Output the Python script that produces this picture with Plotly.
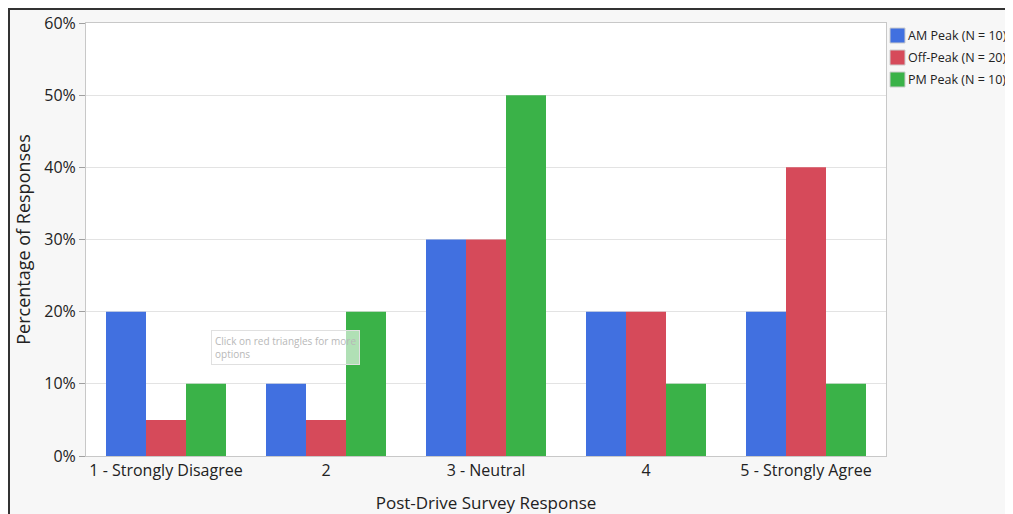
import plotly.graph_objects as go

categories = ["1 - Strongly Disagree", "2", "3 - Neutral", "4", "5 - Strongly Agree"]
series_names = ["AM Peak (N = 10)", "Off-Peak (N = 20)", "PM Peak (N = 10)"]
am_peak = [0.20, 0.10, 0.30, 0.20, 0.20]
off_peak = [0.05, 0.05, 0.30, 0.20, 0.40]
pm_peak = [0.10, 0.20, 0.50, 0.10, 0.10]
colors = ["#4170E0", "#D64A5A", "#3AB248"]
y_ticks = [0, 0.1, 0.2, 0.3, 0.4, 0.5, 0.6]

FONT = "Open Sans, DejaVu Sans, sans-serif"

fig = go.Figure()
for name, vals, col in zip(series_names, [am_peak, off_peak, pm_peak], colors):
    fig.add_trace(go.Bar(x=categories, y=vals, name=name, marker_color=col,
                         marker_line_width=0, showlegend=False))

# page body adds an 8px offset; figure coords = screen coords - 8
OFF = 8
W, H = 1013 - OFF, 514 - OFF
L, T = 86 - OFF, 23 - OFF
R, B = W - (886 - OFF), H - (456 - OFF)
pw, ph = W - L - R, H - T - B

def px_x(x):
    return (x - OFF - L) / pw

def px_y(y):
    return 1 - (y - OFF - T) / ph

shapes = [
    # outer frame: left and top edges
    dict(type="line", xref="paper", yref="paper", x0=px_x(9), x1=px_x(9),
         y0=px_y(600), y1=px_y(8), line=dict(color="#333333", width=2)),
    dict(type="line", xref="paper", yref="paper", x0=px_x(8), x1=px_x(1100),
         y0=px_y(9), y1=px_y(9), line=dict(color="#333333", width=2)),
]
annotations = [dict(text="Click on red triangles for more<br>options",
                    xref="paper", yref="paper", x=px_x(211), y=px_y(330),
                    xanchor="left", yanchor="top", align="left", showarrow=False,
                    font=dict(size=10, color="#b8b8b8"),
                    bgcolor="rgba(255,255,255,0.6)", bordercolor="#e0e0e0",
                    borderwidth=1, borderpad=3)]

# manual legend placed in the right margin
for i, (name, col) in enumerate(zip(series_names, colors)):
    top = 28 + 22 * i
    shapes.append(dict(type="rect", xref="paper", yref="paper",
                       x0=px_x(890), x1=px_x(905), y0=px_y(top + 15), y1=px_y(top),
                       line=dict(color="#cccccc", width=1), fillcolor=col))
    annotations.append(dict(text=name, xref="paper", yref="paper",
                            x=px_x(906), y=px_y(top + 7.5), xanchor="left",
                            yanchor="middle", showarrow=False,
                            font=dict(size=12.5, color="#222222")))

fig.update_layout(
    width=W, height=H,
    margin=dict(l=L, r=R, t=T, b=B, pad=0, autoexpand=False),
    paper_bgcolor="#f7f7f7",
    plot_bgcolor="white",
    barmode="group",
    bargap=0.25,
    bargroupgap=0,
    showlegend=False,
    font=dict(family=FONT, color="#222222", size=16),
    xaxis=dict(
        title=dict(text="Post-Drive Survey Response", font=dict(size=17), standoff=17),
        showline=True, linecolor="#c8c8c8", linewidth=1, mirror=True,
        ticks="", tickfont=dict(size=16), automargin=False,
    ),
    yaxis=dict(
        title=dict(text="Percentage of Responses", font=dict(size=18), standoff=8),
        range=[0, 0.6], tickvals=y_ticks, tickformat=".0%",
        showline=True, linecolor="#c8c8c8", linewidth=1, mirror=True,
        ticks="outside", ticklen=6, tickcolor="#a0a0a0",
        showgrid=True, gridcolor="#e3e3e3", zeroline=False,
        tickfont=dict(size=16), automargin=False,
    ),
    shapes=shapes,
    annotations=annotations,
)

fig.write_html("out.html")
